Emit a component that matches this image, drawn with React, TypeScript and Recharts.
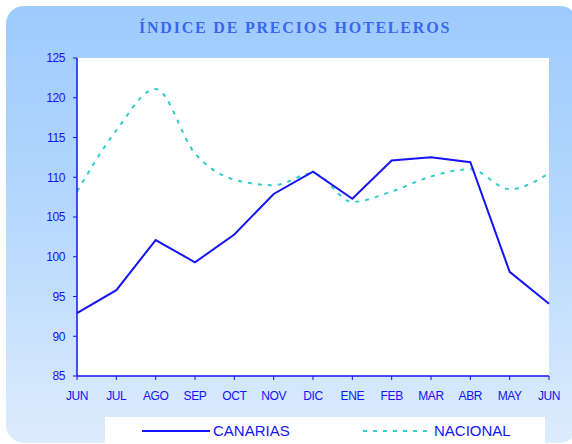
import { LineChart, Line, XAxis, YAxis, CartesianGrid, Legend } from 'recharts';

const months = ['JUN', 'JUL', 'AGO', 'SEP', 'OCT', 'NOV', 'DIC', 'ENE', 'FEB', 'MAR', 'ABR', 'MAY', 'JUN'];
const canarias = [92.9, 95.8, 102.1, 99.3, 102.8, 107.9, 110.7, 107.3, 112.1, 112.5, 111.9, 98.1, 94.1];
const nacional = [108.2, 115.9, 121.1, 113.0, 109.7, 109.0, 110.5, 106.9, 108.2, 110.1, 111.0, 108.5, 110.5];
const yTicks = [85, 90, 95, 100, 105, 110, 115, 120, 125];

const BLUE = '#1414f5';
const TEAL = '#33cccc';

const data = months.map((m, i) => ({ idx: i, month: m, canarias: canarias[i], nacional: nacional[i] }));

function LegendBox() {
  const item = (label: string, color: string, width: number, dash?: string) => (
    <div style={{ display: 'flex', alignItems: 'center', width, flexShrink: 0 }}>
      <svg width={70} height={6}>
        <line x1={0} y1={3} x2={68} y2={3} stroke={color} strokeWidth={2} strokeDasharray={dash} />
      </svg>
      <span style={{ color: BLUE, fontSize: 15, marginLeft: 1 }}>{label}</span>
    </div>
  );
  return (
    <div style={{ display: 'flex', alignItems: 'center', height: 27, paddingLeft: 37, fontFamily: 'Arial, "Liberation Sans", sans-serif' }}>
      {item('CANARIAS', BLUE, 221)}
      {item('NACIONAL', TEAL, 160, '4 6')}
    </div>
  );
}

export default function App() {
  const tick = { fill: BLUE, fontSize: 12, fontFamily: 'Arial, "Liberation Sans", sans-serif', letterSpacing: -0.4 };
  return (
    <div style={{ position: 'absolute', left: 0, top: 0, width: 572, height: 444, overflow: 'hidden', background: '#fff' }}>
      <div
        style={{
          position: 'absolute', left: 6, top: 6, width: 572, height: 437, borderRadius: 18,
          background: 'linear-gradient(to bottom, #9dcbfd 0%, #b4d7fd 45%, #ddecfd 100%)',
        }}
      />
      <div
        style={{
          position: 'absolute', left: 0, width: 590, top: 19, textAlign: 'center', color: '#3a66ee',
          fontFamily: '"Liberation Serif", "Times New Roman", serif', fontWeight: 'bold', fontSize: 16, letterSpacing: 1.8,
        }}
      >
        ÍNDICE DE PRECIOS HOTELEROS
      </div>
      <LineChart width={572} height={444} data={data} margin={{ top: 58, right: 23, left: 0, bottom: 0 }} style={{ position: 'absolute', left: 0, top: 0 }}>
        <CartesianGrid horizontal={false} vertical={false} fill="#ffffff" stroke="none" />
        <XAxis
          dataKey="month"
          interval={0}
          height={41}
          tickSize={4}
          tickMargin={11}
          tick={tick}
          stroke={BLUE}
          axisLine={{ stroke: BLUE, strokeWidth: 1.5 }}
          tickLine={{ stroke: BLUE }}
          allowDuplicatedCategory
        />
        <YAxis
          domain={[85, 125]}
          ticks={yTicks}
          width={77}
          tickSize={4}
          tickMargin={8}
          tick={tick}
          stroke={BLUE}
          axisLine={{ stroke: BLUE, strokeWidth: 1.5 }}
          tickLine={{ stroke: BLUE }}
          interval={0}
        />
        <Line type="monotone" dataKey="nacional" name="NACIONAL" stroke={TEAL} strokeWidth={2} strokeDasharray="4 6" dot={false} isAnimationActive={false} />
        <Line type="linear" dataKey="canarias" name="CANARIAS" stroke={BLUE} strokeWidth={2} dot={false} isAnimationActive={false} />
        <Legend
          verticalAlign="bottom"
          height={27}
          content={() => <LegendBox />}
          wrapperStyle={{ left: 105, width: 440, bottom: 0, height: 27, backgroundColor: '#ffffff' }}
        />
      </LineChart>
    </div>
  );
}
